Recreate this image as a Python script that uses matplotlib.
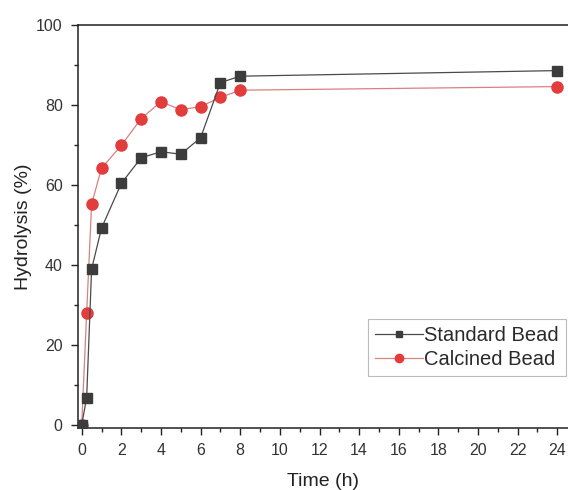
import matplotlib
matplotlib.use("Agg")
import matplotlib.pyplot as plt
from matplotlib.ticker import MultipleLocator

time_std = [0, 0.25, 0.5, 1, 2, 3, 4, 5, 6, 7, 8, 24]
standard = [0, 6.8, 39, 49.2, 60.4, 66.8, 68.3, 67.7, 71.8, 85.6, 87.2, 88.6]
time_cal = [0, 0.25, 0.5, 1, 2, 3, 4, 5, 6, 7, 8, 24]
calcined = [0, 28, 55.2, 64.2, 69.9, 76.6, 80.8, 78.8, 79.6, 81.9, 83.7, 84.6]

plt.rcParams['font.family'] = ['Liberation Sans', 'DejaVu Sans']

W, H = 568, 490
fig = plt.figure(figsize=(W/100, H/100), dpi=100)
ax = fig.add_axes([78/W, 62.3/H, (W-78)/W, (427.7-25)/H])

ax.plot(time_std, standard, color='#4a4a4a', lw=0.9, marker='s', ms=6.5,
        mfc='#3c3c3c', mec='#3c3c3c', label='Standard Bead', zorder=3)
ax.plot(time_cal, calcined, color='#d98080', lw=0.9, marker='o', ms=8,
        mfc='#e23c3c', mec='#e23c3c', label='Calcined Bead', zorder=2)

ax.set_xlim(-0.187, 24.54)
ax.set_ylim(-0.7, 100)
ax.xaxis.set_major_locator(MultipleLocator(2))
ax.xaxis.set_minor_locator(MultipleLocator(1))
ax.yaxis.set_major_locator(MultipleLocator(20))
ax.yaxis.set_minor_locator(MultipleLocator(10))
ax.tick_params(which='major', direction='out', length=5, width=1, labelsize=11.5,
               colors='#222222', labelcolor='#333333', pad=6)
ax.tick_params(which='minor', direction='out', length=3, width=1, colors='#222222')
ax.spines['right'].set_visible(False)
for s in ['left', 'bottom', 'top']:
    ax.spines[s].set_linewidth(1.1)
    ax.spines[s].set_color('#222222')

ax.set_xlabel('Time (h)', fontsize=14, color='#222222', labelpad=11)
ax.set_ylabel('Hydrolysis (%)', fontsize=14, color='#222222', labelpad=3)

leg = ax.legend(loc='lower right', bbox_to_anchor=(566/W, (490-376)/H),
                bbox_transform=fig.transFigure, fontsize=14.5, frameon=True,
                fancybox=False, edgecolor='#aaaaaa', handlelength=2.4,
                handletextpad=0.05, borderpad=0.35, labelspacing=0.25,
                borderaxespad=0, markerscale=0.75, labelcolor='#2a2a2a')
leg.get_frame().set_linewidth(0.8)

fig.savefig('out.png', dpi=100)
